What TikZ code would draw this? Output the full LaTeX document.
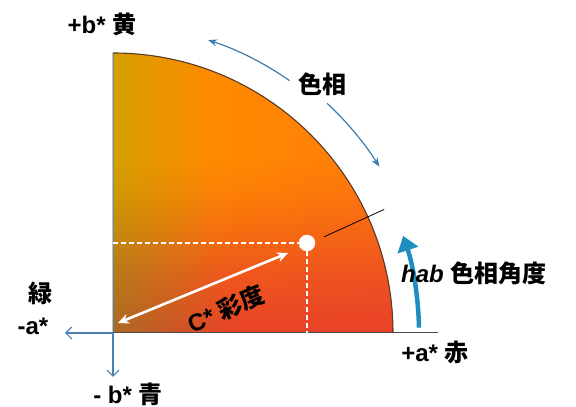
\documentclass[tikz,border=0pt]{standalone}
\usepackage{fontspec}
\setmainfont{Liberation Sans}
\newfontfamily\jp{Noto Sans CJK JP}
\usetikzlibrary{arrows.meta,fadings,calc}
\definecolor{mustard}{HTML}{D6A000}
\definecolor{orng}{HTML}{FF8A00}
\definecolor{orngR}{HTML}{FF7A0C}
\definecolor{brownish}{HTML}{A86428}
\definecolor{reddish}{HTML}{E63C2C}
\definecolor{edgec}{HTML}{5A3A22}
\definecolor{axisblue}{HTML}{4A80B4}
\definecolor{huec}{HTML}{3C7DB0}
\definecolor{habc}{HTML}{1E8EC0}
\pgfdeclarehorizontalshading{basesh}{100bp}{color(0bp)=(mustard); color(25bp)=(mustard); color(43bp)=(orng); color(75bp)=(orngR); color(100bp)=(orngR)}
\pgfdeclarehorizontalshading{overlaysh}{100bp}{color(0bp)=(brownish); color(25bp)=(brownish); color(46bp)=(reddish); color(100bp)=(reddish)}
\pgfdeclareverticalshading{redfadesh}{100bp}{rgb(0bp)=(0.92,0.92,0.92); rgb(25bp)=(0.92,0.92,0.92); rgb(35bp)=(0.66,0.66,0.66); rgb(42.5bp)=(0.38,0.38,0.38); rgb(50bp)=(0.12,0.12,0.12); rgb(56bp)=(0,0,0); rgb(100bp)=(0,0,0)}
\pgfdeclarefading{redfade}{\pgfuseshading{redfadesh}}
\begin{document}
\begin{tikzpicture}[x=1pt,y=1pt,
  lbl/.style={font=\fontsize{24}{28}\selectfont\bfseries, inner sep=0pt},
  blueaxis/.style={draw=axisblue, line width=1.1pt},
  huearrow/.style={draw=huec, line width=1.2pt},
  dashwhite/.style={draw=white, line width=1.8pt, dash pattern=on 5pt off 3pt}]
\useasboundingbox (0,0) rectangle (576,407);
\coordinate (O) at (113,74);
\coordinate (T) at (113,354);
% quarter disc
\shade[shading=basesh]
  (O) -- (T) arc[start angle=90,end angle=0,radius=280] -- cycle;
\shade[shading=overlaysh, path fading=redfade]
  (O) -- (T) arc[start angle=90,end angle=0,radius=280] -- cycle;
\draw[edgec, line width=1.1pt] (T) arc[start angle=90,end angle=0,radius=280];
% axes
\coordinate (AR) at (438,74);
\coordinate (AL) at (65,74);
\coordinate (AD) at (113,30);
\draw[draw=black!70, line width=1pt] (O) -- (AR);
\draw[blueaxis, draw opacity=0.45] (T) -- (O);
\draw[blueaxis, -{Straight Barb[length=6pt,width=12pt]}] (O) -- (AL);
\draw[blueaxis, -{Straight Barb[length=6pt,width=12pt]}] (O) -- (AD);
% point and dashed projections
\node[circle, fill=white, draw=white, minimum size=16pt, inner sep=0pt] (P) at (307,164) {};
\coordinate (PL) at (113,164);
\coordinate (PB) at (307,74);
\draw[dashwhite] (PL) -- (P.west);
\draw[dashwhite] (P.south) -- (PB);
% radial black line
\coordinate (R1) at ($(O)+(24.5:232)$);
\coordinate (R2) at ($(O)+(24.5:298)$);
\draw[black, line width=0.8pt] (R1) -- (R2);
% chroma arrow
\coordinate (C1) at (118,84);
\coordinate (C2) at (288,154);
\draw[white, line width=2.6pt, {Stealth[length=11pt,width=10pt]}-{Stealth[length=11pt,width=10pt]}] (C1) -- (C2);
\node[lbl, rotate=23] (clbl) at (226,98) {C* {\jp 彩度}};
% hue arc arrows
\coordinate (H1) at ($(O)+(72:308)$);
\coordinate (H2) at ($(O)+(47:314)$);
\draw[huearrow, {Stealth[length=9pt,width=7pt]}-] (H1) arc[start angle=72,end angle=55,radius=308];
\draw[huearrow, -{Stealth[length=9pt,width=7pt]}] (H2) arc[start angle=47,end angle=32,radius=314];
\node[lbl] (hue) at (322,323) {\jp 色相};
% hab arrow
\coordinate (B1) at ($(O)+(1:306)$);
\draw[draw=habc, line width=4.5pt, -{Triangle[length=15pt,width=21pt]}] (B1) arc[start angle=1,end angle=18.5,radius=306];
\node[lbl, anchor=west] (hab) at (401,134) {\itshape hab\upshape\ {\jp 色相角度}};
% axis labels
\node[lbl] (yb) at (102,383) {+b* {\jp 黄}};
\node[lbl] (ra) at (435,55) {+a* {\jp 赤}};
\node[lbl] (gr) at (40,114) {\jp 緑};
\node[lbl] (ma) at (33,81) {-a*};
\node[lbl] (bl) at (128,13) {- b* {\jp 青}};
\end{tikzpicture}
\end{document}
